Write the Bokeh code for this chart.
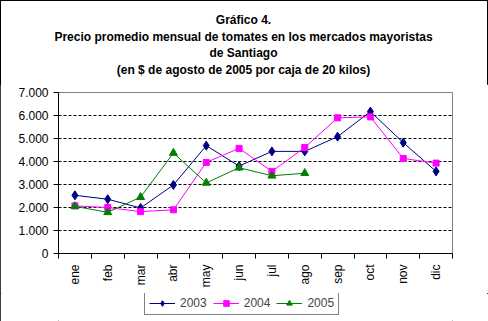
import math
import html
from bokeh.plotting import figure
from bokeh.layouts import column
from bokeh.models import Range1d, FixedTicker, Legend, LegendItem, Div
from bokeh.embed import file_html
from bokeh.resources import INLINE

months = ["ene", "feb", "mar", "abr", "may", "jun", "jul", "ago", "sep", "oct", "nov", "dic"]
v2003 = [2530, 2360, 1980, 2980, 4690, 3800, 4440, 4440, 5080, 6170, 4820, 3570]
v2004 = [2070, 2000, 1820, 1900, 3960, 4570, 3570, 4610, 5900, 5940, 4130, 3930]
v2005 = [2050, 1790, 2450, 4370, 3070, 3730, 3380, 3490]
y_ticks = [0, 1000, 2000, 3000, 4000, 5000, 6000, 7000]
y_labels = ["0", "1.000", "2.000", "3.000", "4.000", "5.000", "6.000", "7.000"]
title_lines = [
    "Gráfico 4.",
    "Precio promedio mensual de tomates en los mercados mayoristas",
    "de Santiago",
    "(en $ de agosto de 2005 por caja de 20 kilos)",
]
series_names = ["2003", "2004", "2005"]

FONT = "Liberation Sans"
W = 488
c03, c04, c05 = "#000080", "#FF00FF", "#008000"

xs = [i + 0.5 for i in range(len(months))]

# ---- title strip ----
title_html = ('<div style="padding-top:12px; line-height:16.6px; text-align:center; '
              'font-family:\'Liberation Sans\', Arial, sans-serif; font-weight:bold; '
              'font-size:12px; color:black; width:487px; margin-left:0px;">'
              + "<br>".join(html.escape(t) for t in title_lines) + "</div>")
pt = Div(text=title_html, width=W, height=84, styles={"margin": "0", "padding": "0"})

# ---- main chart ----
p = figure(width=W, height=209, output_backend="svg", toolbar_location=None,
           x_range=Range1d(0, 12), y_range=Range1d(0, 7000),
           min_border_left=58, min_border_right=36, min_border_top=8, min_border_bottom=40)
p.background_fill_color = "white"
p.border_fill_color = "white"
p.outline_line_color = "#808080"

xa = p.xaxis[0]
xa.ticker = FixedTicker(ticks=xs, minor_ticks=list(range(13)))
xa.major_label_overrides = {x: m for x, m in zip(xs, months)}
xa.major_tick_out = 0
xa.major_tick_in = 0
xa.minor_tick_out = 5
xa.minor_tick_in = 0
xa.minor_tick_line_color = "black"
xa.major_label_orientation = math.pi / 2
xa.major_label_standoff = 6
xa.major_label_text_font = FONT
xa.major_label_text_font_size = "12px"
xa.major_label_text_color = "black"
xa.axis_line_color = "black"

ya = p.yaxis[0]
ya.ticker = FixedTicker(ticks=y_ticks, minor_ticks=[])
ya.major_label_overrides = {t: l for t, l in zip(y_ticks, y_labels)}
ya.major_tick_out = 5
ya.major_tick_in = 0
ya.major_tick_line_color = "black"
ya.major_label_standoff = 5
ya.major_label_text_font = FONT
ya.major_label_text_font_size = "12px"
ya.major_label_text_color = "black"
ya.axis_line_color = "black"

p.xgrid.visible = False
p.ygrid.ticker = FixedTicker(ticks=y_ticks[1:-1])
p.ygrid.grid_line_color = "black"
p.ygrid.grid_line_dash = "3 2"

def draw(fig, n05):
    r = []
    r.append((fig.line(xs, v2003, color=c03, line_width=1),
              fig.scatter(xs, v2003, marker="diamond", size=9, color=c03)))
    r.append((fig.line(xs, v2004, color=c04, line_width=1),
              fig.scatter(xs, v2004, marker="square", size=6, color=c04)))
    r.append((fig.line(xs[:n05], v2005, color=c05, line_width=1),
              fig.scatter(xs[:n05], v2005, marker="triangle", size=8, color=c05)))
    return r

draw(p, len(v2005))

# ---- legend strip (its frame is aligned with the chart frame: 58..452) ----
pl = figure(width=W, height=28, output_backend="svg", toolbar_location=None,
            x_range=Range1d(100, 101), y_range=Range1d(0, 7000),
            x_axis_type=None, y_axis_type=None,
            min_border=0, min_border_left=0, min_border_right=0,
            min_border_top=0, min_border_bottom=0)
pl.grid.visible = False
pl.outline_line_color = None
pl.background_fill_color = "white"
pl.border_fill_color = "white"
rl = draw(pl, len(v2005))
legend = Legend(items=[LegendItem(label=n, renderers=list(rr)) for n, rr in zip(series_names, rl)],
                orientation="horizontal", location=(86, 6),
                border_line_color="black", border_line_width=1,
                label_text_font=FONT, label_text_font_size="12px",
                glyph_width=26, glyph_height=14, label_height=14,
                label_standoff=5, spacing=6, padding=4, margin=0,
                background_fill_alpha=1)
pl.add_layout(legend, "center")

layout = column(pt, p, pl, spacing=0, width=W, height=321,
                styles={"outline": "1px solid black", "outline-offset": "-1px",
                        "z-index": "10"})

open("out.html", "w").write(file_html(layout, INLINE))
